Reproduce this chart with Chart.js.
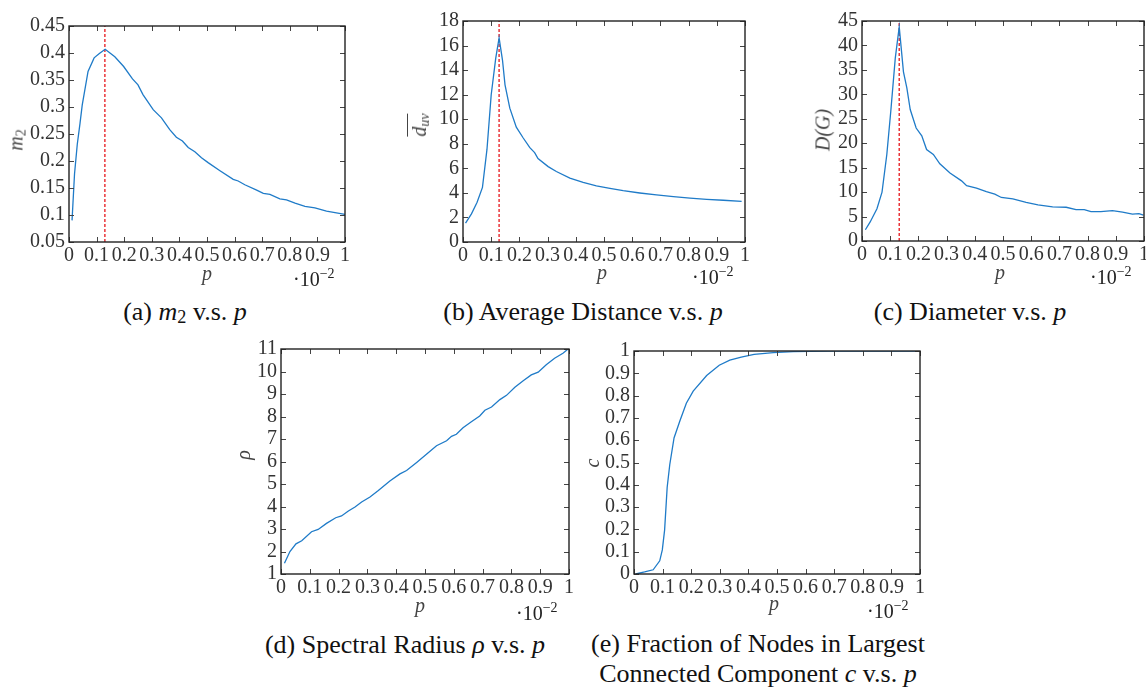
<!DOCTYPE html>
<html>
<head>
<meta charset="utf-8">
<script src="https://cdn.jsdelivr.net/npm/chart.js@4"></script>
<style>
  body { margin: 0; width: 1146px; height: 693px; overflow: hidden; background: #fff; position: relative; font-family: "Liberation Serif", "Times New Roman", serif; }
  canvas { position: absolute; }
  .t { position: absolute; white-space: nowrap; color: #111; }
  .cap { font-size: 26px; line-height: 26px; text-align: center; transform: translateX(-50%); }
  .ax { font-size: 20px; font-style: italic; color: #444; transform: translate(-50%, -50%); }
  .yt { font-size: 20px; font-style: italic; color: #444; transform: translate(-50%, -50%) rotate(-90deg); }
  .mult { font-size: 20px; color: #222; transform: translateY(-50%); }
  .mult sup { font-size: 14px; vertical-align: 8px; }
  sub { font-size: 70%; vertical-align: -3px; font-style: normal; }
  .bar { display: inline-block; border-top: 1.3px solid #444; padding-top: 1px; line-height: 20px; }
</style>
</head>
<body>

<canvas id="ca"></canvas>
<canvas id="cb"></canvas>
<canvas id="cc"></canvas>
<canvas id="cd"></canvas>
<canvas id="ce"></canvas>

<!-- axis titles -->
<div class="t ax" style="left:207px;top:273px">p</div>
<div class="t ax" style="left:602px;top:272px">p</div>
<div class="t ax" style="left:1000px;top:272px">p</div>
<div class="t ax" style="left:420px;top:605px">p</div>
<div class="t ax" style="left:774px;top:603px">p</div>

<div class="t yt" style="left:17px;top:140px">m<sub>2</sub></div>
<div class="t yt" style="left:421px;top:125px"><span class="bar">d<sub style="font-style:italic">uv</sub></span></div>
<div class="t yt" style="left:823px;top:130px">D(G)</div>
<div class="t yt" style="left:243px;top:455px">ρ</div>
<div class="t yt" style="left:592px;top:463px">c</div>

<div class="t mult" style="left:293px;top:278px">·10<sup>−2</sup></div>
<div class="t mult" style="left:692px;top:276px">·10<sup>−2</sup></div>
<div class="t mult" style="left:1090px;top:276px">·10<sup>−2</sup></div>
<div class="t mult" style="left:516px;top:612px">·10<sup>−2</sup></div>
<div class="t mult" style="left:867px;top:610px">·10<sup>−2</sup></div>

<!-- captions -->
<div class="t cap" style="left:185px;top:299px">(a) <i>m</i><sub>2</sub> v.s. <i>p</i></div>
<div class="t cap" style="left:583px;top:299px">(b) Average Distance v.s. <i>p</i></div>
<div class="t cap" style="left:970px;top:299px">(c) Diameter v.s. <i>p</i></div>
<div class="t cap" style="left:405px;top:632px">(d) Spectral Radius <i>ρ</i> v.s. <i>p</i></div>
<div class="t cap" style="left:758px;top:629px;line-height:30px">(e) Fraction of Nodes in Largest<br>Connected Component <i>c</i> v.s. <i>p</i></div>

<script>
// x ticks shared by all panels (p, in units of 1e-2)
const xTicks = [0, 0.1, 0.2, 0.3, 0.4, 0.5, 0.6, 0.7, 0.8, 0.9, 1];

// (a) m2 vs p
const pA = [0.011, 0.02, 0.03, 0.04, 0.048, 0.069, 0.091, 0.11, 0.131, 0.166, 0.198, 0.23, 0.25, 0.268, 0.305, 0.335, 0.365, 0.389, 0.411, 0.432, 0.456, 0.48, 0.504, 0.547, 0.595, 0.613, 0.637, 0.68, 0.704, 0.728, 0.764, 0.788, 0.819, 0.855, 0.891, 0.933, 1.0];
const m2 = [0.090, 0.176, 0.231, 0.270, 0.304, 0.366, 0.391, 0.399, 0.407, 0.393, 0.375, 0.352, 0.341, 0.323, 0.295, 0.280, 0.258, 0.244, 0.237, 0.225, 0.217, 0.206, 0.197, 0.182, 0.166, 0.163, 0.156, 0.146, 0.140, 0.138, 0.130, 0.128, 0.122, 0.116, 0.113, 0.107, 0.101];
const yTicksA = [0.05, 0.1, 0.15, 0.2, 0.25, 0.3, 0.35, 0.4, 0.45];

// (b) average distance vs p
const pB = [0.009, 0.03, 0.05, 0.069, 0.085, 0.10, 0.116, 0.128, 0.14, 0.149, 0.166, 0.189, 0.213, 0.237, 0.254, 0.266, 0.302, 0.331, 0.379, 0.426, 0.473, 0.521, 0.568, 0.627, 0.686, 0.746, 0.805, 0.864, 0.923, 0.988];
const avgDist = [1.54, 2.29, 3.23, 4.45, 7.54, 11.99, 14.96, 16.63, 14.82, 12.8, 10.9, 9.35, 8.49, 7.68, 7.28, 6.79, 6.14, 5.74, 5.20, 4.85, 4.58, 4.37, 4.18, 3.99, 3.83, 3.69, 3.58, 3.48, 3.40, 3.31];
const yTicksB = [0, 2, 4, 6, 8, 10, 12, 14, 16, 18];

// (c) diameter vs p
const pC = [0.012, 0.029, 0.053, 0.071, 0.088, 0.102, 0.118, 0.132, 0.147, 0.159, 0.171, 0.192, 0.212, 0.229, 0.253, 0.276, 0.312, 0.353, 0.371, 0.406, 0.441, 0.471, 0.494, 0.535, 0.582, 0.624, 0.676, 0.724, 0.759, 0.788, 0.812, 0.847, 0.888, 0.924, 0.959, 0.982, 0.998];
const diameter = [2.3, 3.9, 6.6, 10.0, 17.7, 26.5, 37.4, 43.8, 34.6, 31.3, 26.9, 23.1, 21.5, 18.7, 17.7, 15.8, 13.9, 12.3, 11.3, 10.8, 10.1, 9.6, 8.9, 8.6, 7.9, 7.4, 7.0, 6.9, 6.4, 6.4, 6.0, 6.0, 6.2, 5.9, 5.5, 5.6, 5.3];
const yTicksC = [0, 5, 10, 15, 20, 25, 30, 35, 40, 45];

// (d) spectral radius vs p
const pD = [0.012, 0.031, 0.052, 0.072, 0.106, 0.129, 0.158, 0.19, 0.21, 0.234, 0.257, 0.28, 0.309, 0.338, 0.378, 0.413, 0.436, 0.471, 0.506, 0.54, 0.575, 0.592, 0.609, 0.632, 0.661, 0.69, 0.708, 0.731, 0.76, 0.783, 0.812, 0.841, 0.869, 0.893, 0.921, 0.95, 0.979, 0.997];
const spectral = [1.48, 2.0, 2.34, 2.48, 2.88, 2.98, 3.25, 3.50, 3.58, 3.80, 3.98, 4.2, 4.42, 4.71, 5.13, 5.45, 5.60, 5.96, 6.33, 6.70, 6.92, 7.12, 7.21, 7.5, 7.77, 8.02, 8.28, 8.42, 8.75, 8.94, 9.30, 9.59, 9.85, 9.97, 10.30, 10.59, 10.81, 11.0];
const yTicksD = [1, 2, 3, 4, 5, 6, 7, 8, 9, 10, 11];

// (e) fraction of nodes in largest component vs p
const pE = [0.006, 0.037, 0.067, 0.09, 0.099, 0.107, 0.116, 0.125, 0.14, 0.16, 0.183, 0.207, 0.254, 0.298, 0.335, 0.375, 0.42, 0.487, 0.557, 0.68, 0.8, 1.0];
const fraction = [0.0, 0.009, 0.019, 0.059, 0.108, 0.197, 0.389, 0.49, 0.61, 0.685, 0.766, 0.82, 0.89, 0.936, 0.959, 0.973, 0.985, 0.993, 0.997, 0.999, 1.0, 1.0];
const yTicksE = [0, 0.1, 0.2, 0.3, 0.4, 0.5, 0.6, 0.7, 0.8, 0.9, 1];

// red dashed markers at the peak
const peakA = 0.13, peakB = 0.128, peakC = 0.132;

const YW = 60, PADT = 14, PADR = 14, XH = 30;

// frame + inward tick marks, matplotlib style
const framePlugin = {
  id: 'frame',
  afterDraw(chart) {
    const { ctx, chartArea: a, scales: { x, y } } = chart;
    ctx.save();
    ctx.strokeStyle = '#444';
    ctx.lineWidth = 1;
    ctx.beginPath();
    x.ticks.forEach(t => {
      const px = Math.round(x.getPixelForValue(t.value)) + 0.5;
      ctx.moveTo(px, a.bottom); ctx.lineTo(px, a.bottom - 5);
      ctx.moveTo(px, a.top); ctx.lineTo(px, a.top + 5);
    });
    y.ticks.forEach(t => {
      const py = Math.round(y.getPixelForValue(t.value)) + 0.5;
      ctx.moveTo(a.left, py); ctx.lineTo(a.left + 5, py);
      ctx.moveTo(a.right, py); ctx.lineTo(a.right - 5, py);
    });
    ctx.stroke();
    ctx.strokeStyle = '#222';
    ctx.lineWidth = 1.4;
    ctx.strokeRect(a.left, a.top, a.width, a.height);
    ctx.restore();
  }
};

function makePanel(id, box, xs, ys, yTicks, peak) {
  const [L, T, R, B] = box;
  const cv = document.getElementById(id);
  cv.width = (R - L) + YW + PADR;
  cv.height = (B - T) + PADT + XH;
  cv.style.left = (L - YW) + 'px';
  cv.style.top = (T - PADT) + 'px';

  const yMin = yTicks[0], yMax = yTicks[yTicks.length - 1];
  const datasets = [{
    data: xs.map((p, i) => ({ x: p, y: ys[i] })),
    borderColor: '#1f7bc8',
    borderWidth: 1.3,
    pointRadius: 0,
    tension: 0
  }];
  if (peak !== undefined) {
    datasets.push({
      data: [{ x: peak, y: yMin }, { x: peak, y: yMax }],
      borderColor: '#e8262b',
      borderWidth: 1.4,
      borderDash: [3, 2],
      pointRadius: 0
    });
  }
  const tickFont = { family: '"Liberation Serif", "Times New Roman", serif', size: 20 };
  new Chart(cv, {
    type: 'line',
    data: { datasets },
    options: {
      responsive: false,
      animation: false,
      layout: { padding: { top: PADT, right: PADR, left: 0, bottom: 0 } },
      plugins: { legend: { display: false }, tooltip: { enabled: false } },
      scales: {
        x: {
          type: 'linear', min: 0, max: 1,
          afterBuildTicks: s => { s.ticks = xTicks.map(v => ({ value: v })); },
          afterFit: s => { s.height = XH; },
          grid: { display: false, drawTicks: false },
          border: { display: false },
          ticks: { autoSkip: false, maxRotation: 0, minRotation: 0, padding: 2, color: '#333', font: tickFont, callback: v => String(v) }
        },
        y: {
          type: 'linear', min: yMin, max: yMax,
          afterBuildTicks: s => { s.ticks = yTicks.map(v => ({ value: v })); },
          afterFit: s => { s.width = YW; },
          grid: { display: false, drawTicks: false },
          border: { display: false },
          ticks: { autoSkip: false, padding: 4, color: '#333', font: tickFont, callback: v => String(v) }
        }
      }
    },
    plugins: [framePlugin]
  });
}

makePanel('ca', [69, 24, 345, 242], pA, m2, yTicksA, peakA);
makePanel('cb', [463, 19, 745, 242], pB, avgDist, yTicksB, peakB);
makePanel('cc', [862, 19, 1144, 241], pC, diameter, yTicksC, peakC);
makePanel('cd', [281, 347, 569, 574], pD, spectral, yTicksD);
makePanel('ce', [634, 349, 920, 574], pE, fraction, yTicksE);
</script>
</body>
</html>
